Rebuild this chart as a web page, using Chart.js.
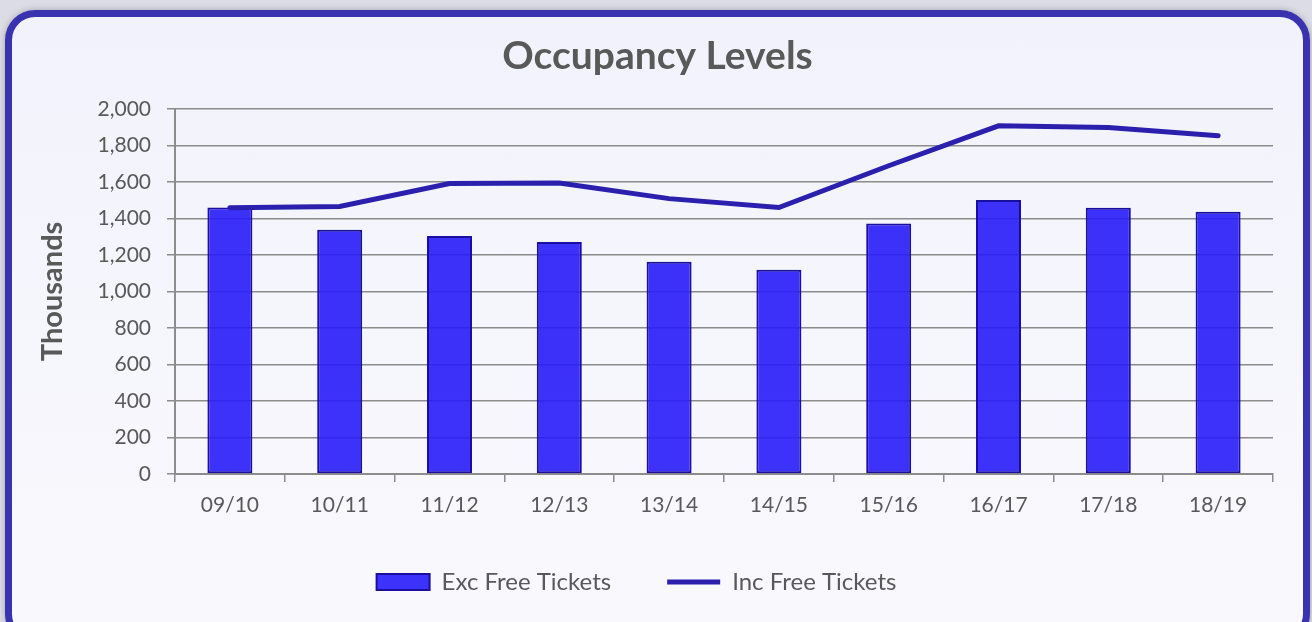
<!DOCTYPE html>
<html>
<head>
<meta charset="utf-8">
<script src="https://cdn.jsdelivr.net/npm/chart.js@4/dist/chart.umd.min.js"></script>
<style>
  html, body { margin: 0; padding: 0; background: #dcdce6; }
  body { width: 1312px; height: 622px; position: relative; overflow: hidden; }
  .card {
    position: absolute; left: 5px; top: 10px; width: 1291px; height: 620px;
    border: 7px solid #3a33b0; border-radius: 30px;
    background: linear-gradient(#f2f2fc, #f9f9fd);
    box-shadow: 0 0 6px rgba(0,0,0,0.25);
  }
  #occupancyChart { position: absolute; left: 0; top: 0; }
</style>
</head>
<body>
<div class="card"></div>
<canvas id="occupancyChart" width="1312" height="622"></canvas>
<script>
const seasons = ['09/10', '10/11', '11/12', '12/13', '13/14', '14/15', '15/16', '16/17', '17/18', '18/19'];
const excFreeTickets = [1460, 1337, 1304, 1271, 1162, 1118, 1372, 1501, 1458, 1436];
const incFreeTickets = [1458, 1465, 1591, 1594, 1508, 1459, 1688, 1907, 1898, 1852];
const yMax = 2000;
const yStep = 200;

const grey = '#595959';
const gridGrey = '#8c8c8c';

// nudge legend left / up and title right like the original
const layoutShift = {
  id: 'layoutShift',
  afterLayout(chart) {
    const lg = chart.legend;
    lg.left -= 15;
    lg.right -= 15;
    lg.top -= 6;
    lg.bottom -= 6;
    const t = chart.titleBlock;
    t.left += 6;
    t.right += 6;
  }
};

function createChart() {
  const ctx = document.getElementById('occupancyChart').getContext('2d');

  new Chart(ctx, {
    type: 'bar',
    data: {
      labels: seasons,
      datasets: [{
        type: 'bar',
        label: 'Exc Free Tickets',
        data: excFreeTickets,
        backgroundColor: 'rgba(40, 28, 248, 0.9)',
        borderColor: '#1a0fa0',
        borderWidth: 2,
        borderSkipped: false,
        barPercentage: 0.41,
        categoryPercentage: 1,
        pointStyle: 'rect',
        order: 1
      }, {
        type: 'line',
        label: 'Inc Free Tickets',
        data: incFreeTickets,
        borderColor: '#2b20ae',
        backgroundColor: '#2b20ae',
        borderWidth: 5,
        borderCapStyle: 'round',
        pointRadius: 0,
        pointStyle: 'line',
        tension: 0,
        order: 0
      }]
    },
    options: {
      responsive: false,
      animation: false,
      layout: {
        padding: { top: 18, left: 30, right: 39, bottom: 12 }
      },
      plugins: {
        title: {
          display: true,
          text: 'Occupancy Levels',
          color: grey,
          font: { family: 'Lato', size: 39, weight: 'bold' },
          padding: { top: 15, bottom: 29 }
        },
        legend: {
          position: 'bottom',
          labels: {
            color: grey,
            font: { family: 'Lato', size: 24 },
            usePointStyle: true,
            pointStyleWidth: 53,
            boxHeight: 16,
            padding: 56,
            sort: (a, b) => a.datasetIndex - b.datasetIndex
          }
        },
        tooltip: { enabled: false }
      },
      scales: {
        x: {
          afterFit(scale) { scale.height = 46; },
          grid: {
            drawOnChartArea: false,
            drawTicks: true,
            tickLength: 8,
            color: gridGrey,
            lineWidth: 1.5
          },
          border: { display: true, color: gridGrey, width: 2 },
          ticks: {
            color: grey,
            font: { family: 'Lato', size: 21 },
            padding: 11
          }
        },
        y: {
          min: 0,
          max: yMax,
          afterFit(scale) { scale.width = 145; },
          title: {
            display: true,
            text: 'Thousands',
            color: grey,
            font: { family: 'Lato', size: 29, weight: 'bold' },
            padding: { top: 5, bottom: 0 }
          },
          grid: {
            color: gridGrey,
            lineWidth: 1.5,
            tickLength: 8
          },
          border: { display: true, color: gridGrey, width: 2 },
          ticks: {
            stepSize: yStep,
            color: grey,
            font: { family: 'Lato', size: 21 },
            padding: 16,
            callback: (v) => v.toLocaleString('en-US')
          }
        }
      }
    },
    plugins: [layoutShift]
  });
}

document.addEventListener('DOMContentLoaded', createChart);
</script>
</body>
</html>
